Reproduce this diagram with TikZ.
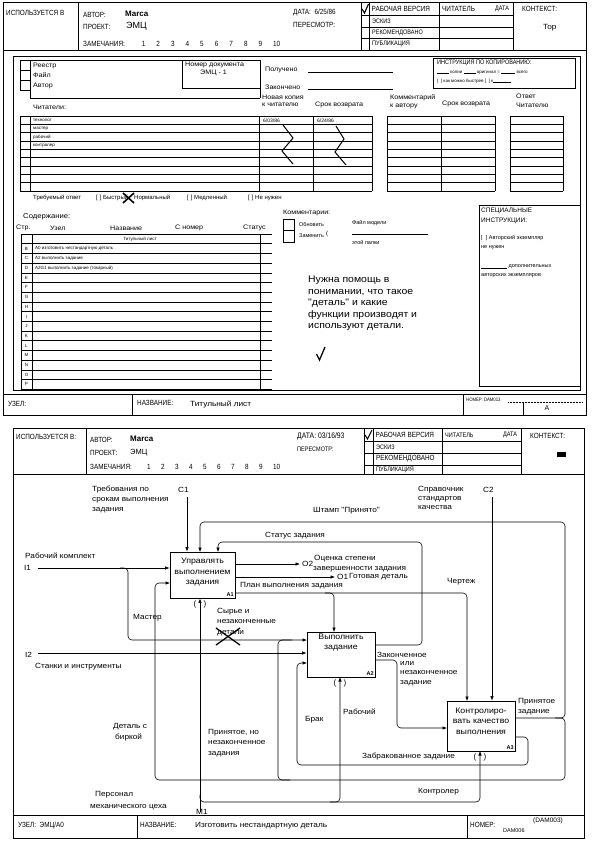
\documentclass[tikz,border=0pt]{standalone}
\usepackage{fontspec}
\setmainfont{Liberation Sans}
\newfontfamily\hdrfont{Liberation Sans}[FakeStretch=0.85]
\newfontfamily\lblfont{Liberation Sans}[FakeStretch=1.1]
\usetikzlibrary{arrows.meta}
\begin{document}
\begin{tikzpicture}[x=1pt,y=-1pt,
 lbl/.style={anchor=west,inner sep=0pt,font=\lblfont\fontsize{7.5}{8.5}\selectfont},
 sm/.style={anchor=west,inner sep=0pt,font=\lblfont\fontsize{6.5}{7.5}\selectfont},
 smn/.style={anchor=west,inner sep=0pt,font=\fontsize{6}{7}\selectfont},
 tn/.style={anchor=west,inner sep=0pt,font=\fontsize{4.5}{5}\selectfont},
 hd/.style={anchor=west,inner sep=0pt,font=\hdrfont\fontsize{7.5}{8.5}\selectfont},
 hds/.style={anchor=west,inner sep=0pt,font=\hdrfont\fontsize{6.5}{7.5}\selectfont},
 hdb/.style={anchor=west,inner sep=0pt,font=\bfseries\fontsize{8}{9}\selectfont},
 big/.style={anchor=north west,inner sep=0pt,align=left,font=\lblfont\fontsize{9.5}{11.5}\selectfont},
 ln/.style={line width=0.5pt},
 fr/.style={line width=0.8pt},
 flow/.style={line width=0.6pt,rounded corners=4pt},
 arr/.style={flow,-{Latex[length=4.5pt,width=3.5pt]}},
 act/.style={draw,line width=0.9pt,inner sep=0pt},
 acttxt/.style={align=center,inner sep=0pt,font=\lblfont\fontsize{8}{10.5}\selectfont},
 tag/.style={anchor=south east,inner sep=1.5pt,font=\bfseries\fontsize{5.5}{6}\selectfont},
 par/.style={inner sep=0pt,font=\fontsize{8}{8}\selectfont},
]
\useasboundingbox (0,0) rectangle (594,847);
\fill[white] (0,0) rectangle (594,847);

% ================= PAGE 1 =================
\draw[fr] (3,2) rectangle (586,415);
\draw[ln] (3,50) -- (586,50);
\draw[ln] (78,2) -- (78,50);
\node[hd] (p1used) at (6,13) {ИСПОЛЬЗУЕТСЯ В};
\node[hd] (p1aut) at (83,15) {АВТОР:};
\node[hdb] (p1marca) at (125,14) {Marca};
\node[hd] (p1proj) at (83,27) {ПРОЕКТ:};
\node[anchor=west,inner sep=0pt,font=\fontsize{9}{10}\selectfont] (p1emc) at (126,26) {ЭМЦ};
\node[hd] (p1rem) at (83,44) {ЗАМЕЧАНИЯ:};
\foreach \i in {1,...,10} \node[hd] (p1n\i) at ({127+14.6*\i},44) {\i};
\node[hd] (p1date) at (293,13) {ДАТА: \ 6/25/86};
\node[hd] (p1rev) at (293,25) {ПЕРЕСМОТР:};
\foreach \x in {361,369,439,513} \draw[ln] (\x,2) -- (\x,50);
\foreach \y in {15,27,38} \draw[ln] (361,\y) -- (513,\y);
\draw[line width=1.1pt] (362,9) -- (364.5,13) -- (368.5,4);
\node[hd] (p1s1) at (371.5,8.5) {РАБОЧАЯ ВЕРСИЯ};
\node[hds] (p1s2) at (372,21) {ЭСКИЗ};
\node[hds] (p1s3) at (372,32.5) {РЕКОМЕНДОВАНО};
\node[hds] (p1s4) at (372,44) {ПУБЛИКАЦИЯ};
\node[hd] (p1rd) at (442,8.5) {ЧИТАТЕЛЬ};
\node[hds] (p1rdd) at (495,8.5) {ДАТА};
\node[hd] (p1ctx) at (522,9) {КОНТЕКСТ:};
\node[anchor=west,inner sep=0pt,font=\lblfont\fontsize{7.5}{8}\selectfont] (p1top) at (543,28) {Top};

% content frame
\draw[ln] (13,56) rectangle (580,390);
% footer
\draw[ln] (3,394) -- (586,394);
\draw[ln] (132,394) -- (132,415);
\draw[ln] (463,394) -- (463,415);
\node[hd] (p1node) at (8,404) {УЗЕЛ:};
\node[hd] (p1name) at (137,403) {НАЗВАНИЕ:};
\node[lbl] (p1title) at (190,404) {Титульный лист};
\node[anchor=west,inner sep=0pt,font=\hdrfont\fontsize{5}{6}\selectfont] (p1num) at (466,400) {НОМЕР: DAM013};
\draw[ln,densely dotted] (508,402) -- (583,402);
\draw[ln] (523,402) -- (523,415);
\node[anchor=center,inner sep=0pt,font=\fontsize{7}{8}\selectfont] (p1A) at (547,408) {A};

% top-left block
\draw[ln] (20,60) -- (182,60);
\draw[ln] (20,60) -- (20,90);
\draw[ln] (30,60) -- (30,98);
\foreach \y in {70,80,90} \draw[ln] (20,\y) -- (30,\y);
\draw[ln] (30,98) -- (260,98);
\draw[ln] (182,60) rectangle (260,88);
\draw[ln] (260,88) -- (260,98);
\node[sm] (p1reg) at (33,66) {Реестр};
\node[sm] (p1file) at (33,75) {Файл};
\node[sm] (p1auth) at (33,86) {Автор};
\node[sm] (p1docn) at (185,64.5) {Номер документа};
\node[sm] (p1docv) at (200,72.5) {ЭМЦ - 1};
\node[sm] (p1recv) at (265,70) {Получено};
\node[sm] (p1done) at (265,87) {Закончено};
\draw[ln] (308,72) -- (393,72);
\draw[ln] (308,89) -- (393,89);
\draw[ln] (433,58) rectangle (575,88);
\node[anchor=west,inner sep=0pt,font=\hdrfont\fontsize{6.5}{7}\selectfont] (p1ins) at (437,63) {ИНСТРУКЦИЯ ПО КОПИРОВАНИЮ:};
\node[tn] (p1ins2) at (437,72.5) {\rule{12pt}{0.4pt} копии \rule{12pt}{0.4pt} оригинал = \rule{14pt}{0.4pt} всего};
\node[tn] (p1ins3) at (437,81) {[\ \ ] как можно быстрее [\ \ ] к\rule{18pt}{0.4pt}};

% readers
\node[sm] (p1readers) at (33,107) {Читатели:};
\node[sm] (p1nc1) at (262,97) {Новая копия};
\node[sm] (p1nc2) at (262,105) {к читателю};
\node[sm] (p1rt1) at (315,105) {Срок возврата};
\node[sm] (p1ca1) at (390,98) {Комментарий};
\node[sm] (p1ca2) at (390,106) {к автору};
\node[sm] (p1rt2) at (442,104) {Срок возврата};
\node[sm] (p1ans1) at (516,96) {Ответ};
\node[sm] (p1ans2) at (516,105) {Читателю};
\foreach \i in {0,...,9}{
  \pgfmathsetmacro\yy{116+8.33*\i}
  \draw[ln] (20,\yy) -- (372,\yy);
  \draw[ln] (387,\yy) -- (495,\yy);
  \draw[ln] (510,\yy) -- (563,\yy);
}
\foreach \x in {20,30,259,313,372,387,441,495,510,563} \draw[ln] (\x,116) -- (\x,191);
\node[tn] (p1r1) at (33,120.3) {технолог};
\node[tn] (p1r2) at (33,128.6) {мастер};
\node[tn] (p1r3) at (33,137) {рабочий};
\node[tn] (p1r4) at (33,145.3) {контролер};
\node[anchor=west,inner sep=0pt,font=\fontsize{5}{6}\selectfont] (p1d1) at (263,120.3) {6/03/86};
\node[anchor=west,inner sep=0pt,font=\fontsize{5}{6}\selectfont] (p1d2) at (317,120.3) {6/24/86};
\draw[line width=1pt] (283,125) -- (293,138) -- (282,151) -- (293,164);
\draw[line width=1pt] (336,126) -- (344,139) -- (335,152) -- (346,165);

% required answer
\node[smn] (p1req) at (33,198) {Требуемый ответ};
\node[smn] (p1q1) at (96,198) {[\,\,] Быстрый};
\draw[line width=1.6pt] (123,193) -- (134,203);
\draw[line width=1.6pt] (123,203) -- (134,193);
\node[smn] (p1q2) at (134,198) {Нормальный};
\node[smn] (p1q3) at (187,198) {[\,\,] Медленный};
\node[smn] (p1q4) at (248,198) {[\,\,] Не нужен};

% contents table
\node[anchor=west,inner sep=0pt,font=\lblfont\fontsize{7}{8}\selectfont] (p1cont) at (23,217) {Содержание:};
\node[sm] (p1h1) at (16,228) {Стр.};
\node[sm] (p1h2) at (50,228) {Узел};
\node[sm] (p1h3) at (110,228) {Название};
\node[sm] (p1h4) at (175,228) {С номер};
\node[sm] (p1h5) at (243,228) {Статус};
\foreach \i in {0,...,16}{\pgfmathsetmacro\yy{234+9.7*\i} \draw[ln] (21,\yy) -- (272,\yy);}
\foreach \x in {21,32,260} \draw[ln] (\x,234) -- (\x,389.2);
\node[tn,anchor=center] (p1tl) at (140,239) {Титульный лист};
\foreach \L [count=\i] in {B,C,D,E,F,G,H,I,J,K,L,M,N,O,P}{
  \pgfmathsetmacro\yy{234+9.7*(\i+0.5)}
  \node[tn,anchor=center] (p1let\i) at (26.5,\yy) {\L};
}
\node[tn] (p1row1) at (35,248.5) {A0 изготовить нестандартную деталь};
\node[tn] (p1row2) at (35,258.2) {A2 выполнить задание};
\node[tn] (p1row3) at (35,267.9) {A2G1 выполнить задание (токарный)};

% comments
\node[sm] (p1com) at (283,213) {Комментарии:};
\draw[ln] (283,219) rectangle (294,230);
\draw[ln] (283,230) rectangle (294,242);
\node[tn,font=\fontsize{5.5}{6}\selectfont] (p1upd) at (299,224.5) {Обновить};
\node[tn,font=\fontsize{5.5}{6}\selectfont] (p1rep) at (299,236) {Заменить};
\node[tn,font=\fontsize{6}{6}\selectfont] (p1par) at (326,234) {(};
\node[tn,font=\fontsize{5.5}{6}\selectfont] (p1fm) at (352,223) {Файл модели};
\draw[ln] (352,234.5) -- (428,234.5);
\node[tn,font=\fontsize{5.5}{6}\selectfont] (p1fp) at (352,242) {этой папки};
\node[big] (p1help) at (308,276) {Нужна помощь в\\понимании, что такое\\"деталь" и какие\\функции производят и\\используют детали.};
\draw[line width=1.3pt] (316.5,354) -- (319.5,360) -- (325,347);

% special instructions
\draw[ln] (479,205) rectangle (580,386);
\node[anchor=west,inner sep=0pt,font=\fontsize{6.5}{7.5}\selectfont] (p1sp1) at (481,211) {СПЕЦИАЛЬНЫЕ};
\node[anchor=west,inner sep=0pt,font=\fontsize{6.5}{7.5}\selectfont] (p1sp2) at (481,221) {ИНСТРУКЦИИ:};
\node[tn,font=\fontsize{5.5}{6}\selectfont] (p1sp3) at (481,238.5) {[\ \ ] Авторский экземпляр};
\node[tn,font=\fontsize{5.5}{6}\selectfont] (p1sp4) at (481,247.5) {не нужен};
\node[tn,font=\fontsize{5.5}{6}\selectfont] (p1sp5) at (481,267) {\rule{26pt}{0.4pt}\ дополнительных};
\node[tn,font=\fontsize{5.5}{6}\selectfont] (p1sp6) at (481,276) {авторских экземпляров};

% ================= PAGE 2 =================
\draw[fr] (13,428) rectangle (584,838);
\draw[ln] (13,474) -- (584,474);
\draw[ln] (86,428) -- (86,474);
\node[hd] (p2used) at (16,437) {ИСПОЛЬЗУЕТСЯ В:};
\node[hd] (p2aut) at (90,440) {АВТОР:};
\node[hdb] (p2marca) at (130,439) {Marca};
\node[hd] (p2proj) at (90,453) {ПРОЕКТ:};
\node[anchor=west,inner sep=0pt,font=\fontsize{7.5}{8}\selectfont] (p2emc) at (130,453) {ЭМЦ};
\node[hd] (p2rem) at (90,467) {ЗАМЕЧАНИЯ:};
\foreach \i in {1,...,10} \node[hd] (p2n\i) at ({133+14*\i},467) {\i};
\node[anchor=west,inner sep=0pt,font=\hdrfont\fontsize{8}{8.5}\selectfont] (p2date) at (297,436) {ДАТА: 03/16/93};
\node[hds] (p2rev) at (297,449) {ПЕРЕСМОТР:};
\foreach \x in {364,373,442,521} \draw[ln] (\x,428) -- (\x,474);
\foreach \y in {441,453,465} \draw[ln] (364,\y) -- (521,\y);
\draw[line width=1.1pt] (365,435) -- (367.5,439) -- (372,430);
\node[hd] (p2s1) at (375.5,435) {РАБОЧАЯ ВЕРСИЯ};
\node[hds] (p2s2) at (376,447) {ЭСКИЗ};
\node[hd] (p2s3) at (376,459) {РЕКОМЕНДОВАНО};
\node[hds] (p2s4) at (376,470) {ПУБЛИКАЦИЯ};
\node[hds] (p2rd) at (445,435) {ЧИТАТЕЛЬ};
\node[hds] (p2rdd) at (503,435) {ДАТА};
\node[hd] (p2ctx) at (530,436) {КОНТЕКСТ:};
\fill (557,452) rectangle (566,457);
% footer
\draw[ln] (13,815) -- (584,815);
\draw[ln] (137,815) -- (137,838);
\draw[ln] (467,815) -- (467,838);
\node[hd] (p2node) at (18,826) {УЗЕЛ: \ ЭМЦ/A0};
\node[hd] (p2name) at (140,825) {НАЗВАНИЕ:};
\node[lbl] (p2title) at (195,826) {Изготовить нестандартную деталь};
\node[hd] (p2num) at (470,825) {НОМЕР:};
\node[anchor=west,inner sep=0pt,font=\fontsize{6.5}{7}\selectfont] (p2num1) at (533,821) {(DAM003)};
\node[anchor=west,inner sep=0pt,font=\fontsize{5.5}{6}\selectfont] (p2num2) at (503,831) {DAM006};

% ---- activity boxes
\node[act,minimum width=65pt,minimum height=46pt] (A1) at (202.5,575) {};
\node[acttxt] (A1txt) at (202.5,572.5) {Управлять\\выполнением\\задания};
\node[tag] (A1tag) at (A1.south east) {A1};
\node[act,minimum width=68pt,minimum height=45pt] (A2) at (341,654.5) {};
\node[acttxt] (A2txt) at (341,642.5) {Выполнить\\задание};
\node[tag] (A2tag) at (A2.south east) {A2};
\node[act,minimum width=68pt,minimum height=50pt] (A3) at (481,726) {};
\node[acttxt] (A3txt) at (481,721) {Контролиро-\\вать качество\\выполнения};
\node[tag] (A3tag) at (A3.south east) {A3};

% ---- boundary ends
\coordinate (C1s) at (187,497);
\coordinate (C2s) at (492,497);
\coordinate (I1s) at (38,568);
\coordinate (I2s) at (38,653);
\coordinate (M1s) at (200,812);

% controls
\draw[arr] (C1s) -- (C1s |- A1.north);
\draw[arr] (C2s) -- (C2s |- A3.north);
% inputs
\draw[arr] (I1s) -- (I1s -| A1.west);
\draw[arr] (I2s) -- (I2s -| A2.west);
\draw[arr] (120,568) -- (128,568) -- (128,640) -- (307,640);
% mechanisms
\draw[arr] (M1s) -- (M1s |- A1.south);
\draw[arr] (200,795) -- (200,802) -- (340,802) -- (340,677);
\draw[arr] (330,802) -- (480,802) -- (480,751);
% outputs of A1
\draw[arr] (235,564) -- (300,564);
\draw[arr] (235,577) -- (335,577);
\draw[arr] (235,593) -- (467,593) -- (467,701);
\draw[arr] (325,593) -- (334,593) -- (334,632);
% A2 outputs
\draw[arr] (375,645) -- (422,645) -- (422,542) -- (218,542) -- (218,552);
\draw[arr] (375,660) -- (397,660) -- (397,728) -- (447,728);
% A3 outputs
\draw[arr] (515,718) -- (565,718) -- (565,522) -- (200,522) -- (200,552);
\draw[arr] (555,718) -- (565,718) -- (565,780) -- (155,780) -- (155,583) -- (170,583);
\draw[flow] (290,780) -- (278,780) -- (278,640) -- (292,640);
\draw[arr] (515,737) -- (528,737) -- (528,765) -- (297,765) -- (297,663) -- (307,663);

% tunnel parentheses
\node[par] (tp1a) at (195,604) {(};
\node[par] (tp1b) at (205,604) {)};
\node[par] (tp2a) at (335,683) {(};
\node[par] (tp2b) at (345,683) {)};
\node[par] (tp3a) at (475,757) {(};
\node[par] (tp3b) at (485,757) {)};

% labels
\node[lbl] (lC1a) at (92,490) {Требования по};
\node[lbl] (lC1b) at (92,500) {срокам выполнения};
\node[lbl] (lC1c) at (92,510) {задания};
\node[lbl] (lC1) at (178,490) {C1};
\node[lbl] (lI1a) at (25,556) {Рабочий комплект};
\node[lbl] (lI1) at (24,568) {I1};
\node[lbl] (lst) at (265,536) {Статус задания};
\node[lbl] (lsh) at (313,511) {Штамп "Принято"};
\node[lbl] (lC2a) at (418,490) {Справочник};
\node[lbl] (lC2b) at (418,499) {стандартов};
\node[lbl] (lC2c) at (418,508) {качества};
\node[lbl] (lC2) at (483,490) {C2};
\node[lbl] (lO2a) at (314,559) {Оценка степени};
\node[lbl] (lO2b) at (313,569.5) {завершенности задания};
\node[lbl] (lO2) at (302,564) {O2};
\node[lbl] (lO1) at (337,577) {O1};
\node[lbl] (lO1a) at (349,577) {Готовая деталь};
\node[lbl] (lplan) at (240,586) {План выполнения задания};
\node[lbl] (ldraw) at (447,582) {Чертеж};
\node[lbl] (lmas) at (133,618) {Мастер};
\node[lbl] (lraw1) at (217,612) {Сырье и};
\node[lbl] (lraw2) at (217,622) {незаконченные};
\node[lbl] (lraw3) at (217,633) {детали};
\draw[line width=1.3pt] (216,628) -- (240,645);
\draw[line width=1.3pt] (216,645) -- (240,628);
\node[lbl] (lI2) at (25,655) {I2};
\node[lbl] (lI2a) at (35,667) {Станки и инструменты};
\node[lbl] (ltag1) at (113,727) {Деталь с};
\node[lbl] (ltag2) at (115,737) {биркой};
\node[lbl] (lacc1) at (208,733) {Принятое, но};
\node[lbl] (lacc2) at (208,743) {незаконченное};
\node[lbl] (lacc3) at (208,754) {задания};
\node[lbl] (lfin1) at (377,655) {Законченное};
\node[lbl] (lfin2) at (400,663.5) {или};
\node[lbl] (lfin3) at (400,673) {незаконченное};
\node[lbl] (lfin4) at (400,683) {задание};
\node[lbl] (lwork) at (343,712) {Рабочий};
\node[lbl] (lbrak) at (305,720) {Брак};
\node[lbl] (lok1) at (518,702) {Принятое};
\node[lbl] (lok2) at (518,712) {задание};
\node[lbl] (lrej) at (362,757) {Забракованное задание};
\node[lbl] (lctl) at (418,792) {Контролер};
\node[lbl] (lper1) at (95,795) {Персонал};
\node[lbl] (lper2) at (90,807) {механического цеха};
\node[lbl] (lM1) at (196,812) {M1};
\end{tikzpicture}
\end{document}
